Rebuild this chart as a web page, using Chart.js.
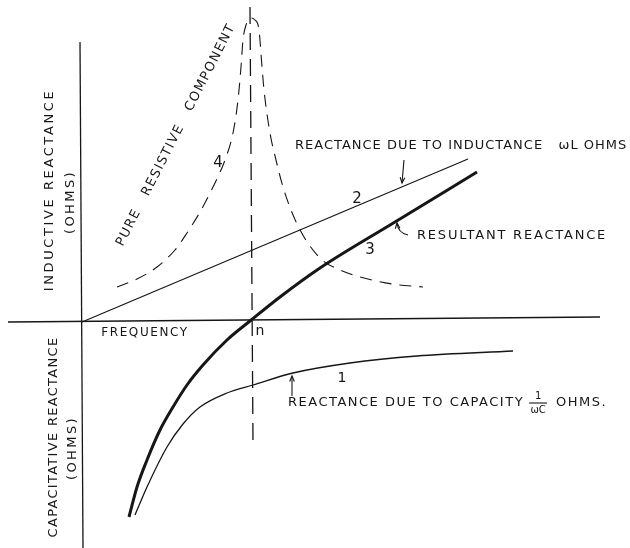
<!DOCTYPE html>
<html>
<head>
<meta charset="utf-8">
<script src="https://cdn.jsdelivr.net/npm/chart.js@4.4.1/dist/chart.umd.min.js"></script>
<style>
  html, body { margin: 0; padding: 0; background: #fff; }
  canvas { display: block; }
</style>
</head>
<body>
<canvas id="grafic" width="630" height="548"></canvas>
<script>
// Eixos: x = freqüència, y = reactància (origen on es creuen els eixos)
const eixHorX = [-74, 518];
const eixHorY = [0, 5];
const eixVerX = [-2, 1];
const eixVerY = [280, -226];

// Línia discontínua de ressonància (n)
const ressonX = [168, 171];
const ressonY = [315, -121];

// 1: reactància deguda a la capacitat (1/wC)
const capX = [53, 65, 85, 101, 118, 145, 171, 211, 268, 335, 431];
const capY = [-193, -165, -125, -102, -85, -71, -63, -51, -41, -34, -29];

// 2: reactància deguda a la inductància (wL)
const indX = [0, 386];
const indY = [0, 163];

// 3: reactància resultant
const resX = [47, 55, 65, 78, 91, 105, 121, 145, 168, 198, 238, 313, 395];
const resY = [-195, -165, -138, -108, -85, -63, -43, -18, 1, 25, 54, 100, 150];

// 4: component resistiva pura
const purX = [35, 55, 75, 93, 105, 118, 131, 143, 151, 156, 159, 161, 164, 168, 173, 177, 180, 182, 188, 194, 201, 216, 238, 258, 278, 310, 341];
const purY = [35, 43, 55, 72, 89, 110, 135, 162, 189, 222, 255, 282, 297, 304, 302, 292, 255, 232, 189, 162, 135, 96, 64, 52, 45, 38, 35];

const tinta = '#161616';
const punts = (xs, ys) => xs.map((x, i) => ({ x: x, y: ys[i] }));

// Textos (coordenades en unitats de dades)
const textos = [
    { text: 'INDUCTIVE REACTANCE', x: -32, y: 132, angle: -90, mida: 13, espai: 2.6 },
    { text: '(OHMS)', x: -11, y: 120, angle: -90, mida: 13, espai: 2.4 },
    { text: 'CAPACITATIVE REACTANCE', x: -28, y: -115, angle: -90, mida: 13, espai: 1.3 },
    { text: '(OHMS)', x: -9, y: -126, angle: -90, mida: 13, espai: 2.4 },
    { text: 'PURE   RESISTIVE   COMPONENT', x: 94, y: 187, angle: -63, mida: 13, espai: 1.35 },
    { text: '4', x: 136, y: 159, mida: 15 },
    { text: '2', x: 275, y: 123, mida: 15 },
    { text: '3', x: 288, y: 72, mida: 15 },
    { text: '1', x: 260, y: -56, mida: 14 },
    { text: 'n', x: 178, y: -9, mida: 14 },
    { text: 'FREQUENCY', x: 63, y: -11, mida: 12, espai: 1.6 },
    { text: 'REACTANCE DUE TO INDUCTANCE   \u03c9L OHMS', x: 213, y: 176, mida: 13, espai: 1.0, alinea: 'left' },
    { text: 'RESULTANT REACTANCE', x: 335, y: 86, mida: 13, espai: 1.8, alinea: 'left' }
];

const anotacions = {
    id: 'anotacions',
    afterDatasetsDraw(chart) {
        const ctx = chart.ctx;
        const px = v => chart.scales.x.getPixelForValue(v);
        const py = v => chart.scales.y.getPixelForValue(v);
        ctx.save();
        ctx.fillStyle = tinta;
        ctx.strokeStyle = tinta;
        ctx.lineWidth = 1.1;

        textos.forEach(t => {
            ctx.save();
            ctx.font = t.mida + 'px "DejaVu Sans"';
            ctx.letterSpacing = (t.espai || 0) + 'px';
            ctx.textAlign = t.alinea || 'center';
            ctx.textBaseline = 'middle';
            ctx.translate(px(t.x), py(t.y));
            ctx.rotate((t.angle || 0) * Math.PI / 180);
            ctx.fillText(t.text, 0, 0);
            ctx.restore();
        });

        // Text de la capacitat amb la fracció 1/wC
        ctx.save();
        ctx.font = '13px "DejaVu Sans"';
        ctx.letterSpacing = '1.5px';
        ctx.textAlign = 'left';
        ctx.textBaseline = 'middle';
        const x0 = px(206), y0 = py(-81);
        const frase = 'REACTANCE DUE TO CAPACITY';
        ctx.fillText(frase, x0, y0);
        const fx = x0 + ctx.measureText(frase).width + 14;
        ctx.font = '10px "DejaVu Sans"';
        ctx.letterSpacing = '0px';
        ctx.textAlign = 'center';
        ctx.fillText('1', fx, y0 - 7);
        ctx.fillText('\u03c9C', fx, y0 + 7);
        ctx.beginPath();
        ctx.moveTo(fx - 9, y0);
        ctx.lineTo(fx + 9, y0);
        ctx.stroke();
        ctx.font = '13px "DejaVu Sans"';
        ctx.letterSpacing = '1.5px';
        ctx.textAlign = 'left';
        ctx.fillText('OHMS.', fx + 18, y0);
        ctx.restore();

        // Fletxes
        const punta = (xa, ya, xb, yb) => {
            const ang = Math.atan2(yb - ya, xb - xa);
            ctx.beginPath();
            ctx.moveTo(xb - 6 * Math.cos(ang - 0.4), yb - 6 * Math.sin(ang - 0.4));
            ctx.lineTo(xb, yb);
            ctx.lineTo(xb - 6 * Math.cos(ang + 0.4), yb - 6 * Math.sin(ang + 0.4));
            ctx.stroke();
        };
        // fletxa 2
        ctx.beginPath();
        ctx.moveTo(px(322), py(162));
        ctx.lineTo(px(320), py(139));
        ctx.stroke();
        punta(px(322), py(162), px(320), py(139));
        // fletxa 3 (corbada)
        ctx.beginPath();
        ctx.moveTo(px(326), py(87));
        ctx.quadraticCurveTo(px(316), py(89), px(315), py(99));
        ctx.stroke();
        punta(px(316), py(90), px(315), py(99));
        // fletxa 1
        ctx.beginPath();
        ctx.moveTo(px(210), py(-74));
        ctx.lineTo(px(210), py(-54));
        ctx.stroke();
        punta(px(210), py(-74), px(210), py(-54));

        ctx.restore();
    }
};

const linia = (dades, gruix, extra) => Object.assign({
    data: dades,
    showLine: true,
    borderColor: tinta,
    borderWidth: gruix,
    pointRadius: 0,
    fill: false
}, extra || {});

new Chart(document.getElementById('grafic'), {
    type: 'scatter',
    data: {
        datasets: [
            linia(punts(eixHorX, eixHorY), 1.3),
            linia(punts(eixVerX, eixVerY), 1.3),
            linia(punts(ressonX, ressonY), 1.3, { borderDash: [17, 9] }),
            linia(punts(purX, purY), 1.1, { borderDash: [12, 8], cubicInterpolationMode: 'monotone' }),
            linia(punts(indX, indY), 1.2),
            linia(punts(capX, capY), 1.3, { cubicInterpolationMode: 'monotone' }),
            linia(punts(resX, resY), 3, { cubicInterpolationMode: 'monotone' })
        ]
    },
    options: {
        responsive: false,
        animation: false,
        layout: { padding: 0 },
        plugins: { legend: { display: false }, tooltip: { enabled: false } },
        scales: {
            x: { type: 'linear', min: -82, max: 548, display: false },
            y: { type: 'linear', min: -226, max: 322, display: false }
        }
    },
    plugins: [anotacions]
});
</script>
</body>
</html>
